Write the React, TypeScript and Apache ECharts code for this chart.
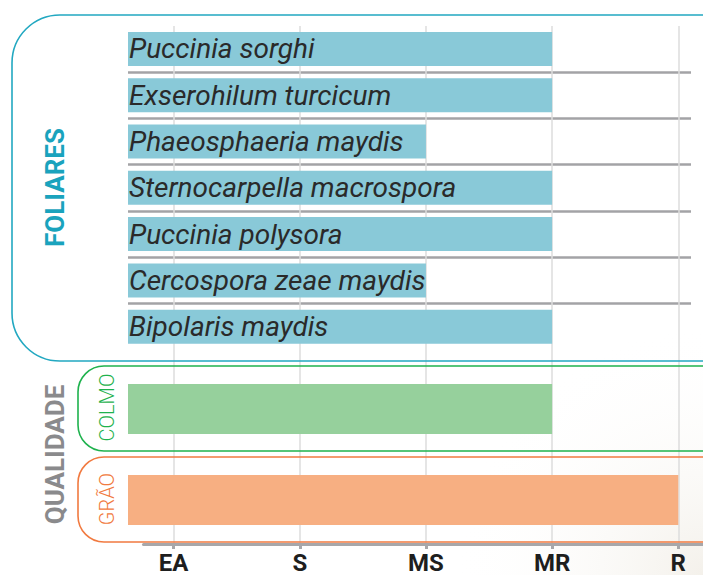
import React, { useEffect, useRef } from "react";
import * as echarts from "echarts";

// ---- data ----
const tickLabels = ["EA", "S", "MS", "MR", "R"];
const tickValues = [1, 2, 3, 4, 5];
const foliarNames = [
  "Puccinia sorghi",
  "Exserohilum turcicum",
  "Phaeosphaeria maydis",
  "Sternocarpella macrospora",
  "Puccinia polysora",
  "Cercospora zeae maydis",
  "Bipolaris maydis",
];
const foliarValues = [4, 4, 3, 4, 4, 3, 4];
const qualidadeNames = ["COLMO", "GRÃO"];
const qualidadeValues = [4, 5];
const groupFoliar = "FOLIARES";
const groupQualidade = "QUALIDADE";

// ---- layout / style ----
const W = 703;
const H = 575;
const eaX = 173.6;
const rX = 678.3;
const pxPerUnit = (rX - eaX) / 4;
const valAt = (px: number) => 1 + (px - eaX) / pxPerUnit;
const barLeft = 128;
const barRight = 691;
const axisLeft = 143.5;
const axisRight = W;

const FONT = "Roboto";
const teal = "#22a8c1";
const green = "#1fb24e";
const orange = "#f17a40";
const qualColors = ["#96d09c", "#f7af82"];
const qualStroke = [green, orange];

export default function App() {
  const ref = useRef<HTMLDivElement>(null);
  useEffect(() => {
    if (!ref.current) return;
    const chart = echarts.init(ref.current, undefined, { renderer: "svg" });
    const barMin = valAt(barLeft);
    const barMax = valAt(barRight);

    const option: any = {
      animation: false,
      backgroundColor: "#ffffff",
      grid: [
        { left: axisLeft, right: W - axisRight, top: 26, bottom: H - 549, containLabel: false },
        { left: barLeft, right: W - barRight, top: 25.75, height: 324.1, containLabel: false },
        { left: barLeft, right: W - barRight, top: 363.5, height: 182, containLabel: false },
      ],
      xAxis: [
        {
          gridIndex: 0,
          type: "value",
          min: valAt(axisLeft),
          max: valAt(axisRight),
          axisLine: { show: true, onZero: false, lineStyle: { color: "#a7a7aa", width: 3 } },
          axisTick: {
            show: true,
            customValues: tickValues,
            length: 5,
            lineStyle: { color: "#a7a7aa", width: 3 },
          },
          axisLabel: {
            customValues: tickValues,
            formatter: (v: number) => tickLabels[Math.round(v) - 1] ?? "",
            margin: 7,
            fontSize: 24,
            fontWeight: "bold",
            color: "#1e1e1e",
            fontFamily: FONT,
          },
          splitLine: { show: true, lineStyle: { color: "#dcdcdc", width: 1.5 } },
        },
        { gridIndex: 1, type: "value", min: barMin, max: barMax, show: false },
        { gridIndex: 2, type: "value", min: barMin, max: barMax, show: false },
      ],
      yAxis: [
        { gridIndex: 0, type: "value", min: 0, max: 1, show: false },
        {
          gridIndex: 1,
          type: "category",
          data: foliarNames,
          inverse: true,
          axisLine: { show: false },
          axisTick: { show: false },
          axisLabel: { show: false },
          splitLine: {
            show: true,
            interval: 0,
            showMinLine: false,
            showMaxLine: false,
            lineStyle: { color: "#a3a3a6", width: 2.5 },
          },
        },
        {
          gridIndex: 2,
          type: "category",
          data: qualidadeNames,
          inverse: true,
          show: false,
        },
      ],
      series: [
        {
          type: "bar",
          xAxisIndex: 1,
          yAxisIndex: 1,
          data: foliarValues,
          barWidth: 34,
          itemStyle: { color: "#89c9d8" },
          z: 3,
          label: {
            show: true,
            position: "insideLeft",
            distance: 1,
            formatter: "{b}",
            fontFamily: FONT,
            fontStyle: "italic",
            fontSize: 28,
            color: "#2a2a2a",
          },
        },
        {
          type: "bar",
          xAxisIndex: 2,
          yAxisIndex: 2,
          data: qualidadeValues.map((v, i) => ({ value: v, itemStyle: { color: qualColors[i] } })),
          barWidth: 50,
          z: 3,
        },
      ],
      graphic: [
        {
          type: "rect",
          z: -10,
          silent: true,
          shape: { x: 453, y: 325, width: 250, height: 250 },
          style: {
            fill: new echarts.graphic.RadialGradient(1, 1, 1, [
              { offset: 0, color: "rgba(240,236,228,0.75)" },
              { offset: 1, color: "rgba(255,255,255,0)" },
            ]),
          },
        },
        {
          type: "rect",
          z: 5,
          shape: { x: 12, y: 15, width: 800, height: 346, r: 48 },
          style: { fill: "none", stroke: teal, lineWidth: 1.6 },
        },
        {
          type: "rect",
          z: 5,
          shape: { x: 78, y: 366, width: 800, height: 85, r: 26 },
          style: { fill: "none", stroke: qualStroke[0], lineWidth: 1.6 },
        },
        {
          type: "rect",
          z: 5,
          shape: { x: 78, y: 457, width: 800, height: 85, r: 26 },
          style: { fill: "none", stroke: qualStroke[1], lineWidth: 1.6 },
        },
        {
          type: "text",
          z: 5,
          x: 55,
          y: 187.5,
          rotation: Math.PI / 2,
          style: {
            text: groupFoliar,
            fill: "#1aa3bd",
            fontSize: 26,
            fontWeight: "bold",
            fontFamily: FONT,
            align: "center",
            verticalAlign: "middle",
          },
        },
        {
          type: "text",
          z: 5,
          x: 55,
          y: 454.5,
          rotation: Math.PI / 2,
          style: {
            text: groupQualidade,
            fill: "#8a8a8c",
            fontSize: 26,
            fontWeight: "bold",
            fontFamily: FONT,
            align: "center",
            verticalAlign: "middle",
          },
        },
        ...qualidadeNames.map((name, i) => ({
          type: "text",
          z: 5,
          x: 106.5,
          y: i === 0 ? 407.5 : 499,
          rotation: Math.PI / 2,
          style: {
            text: name,
            fill: qualStroke[i],
            fontSize: 20,
            fontWeight: 300,
            fontFamily: FONT,
            align: "center",
            verticalAlign: "middle",
          },
        })),
      ],
    };
    chart.setOption(option);
    return () => chart.dispose();
  }, []);
  return (
    <div
      ref={ref}
      style={{ position: "fixed", left: 0, top: 0, width: W, height: H }}
    />
  );
}
